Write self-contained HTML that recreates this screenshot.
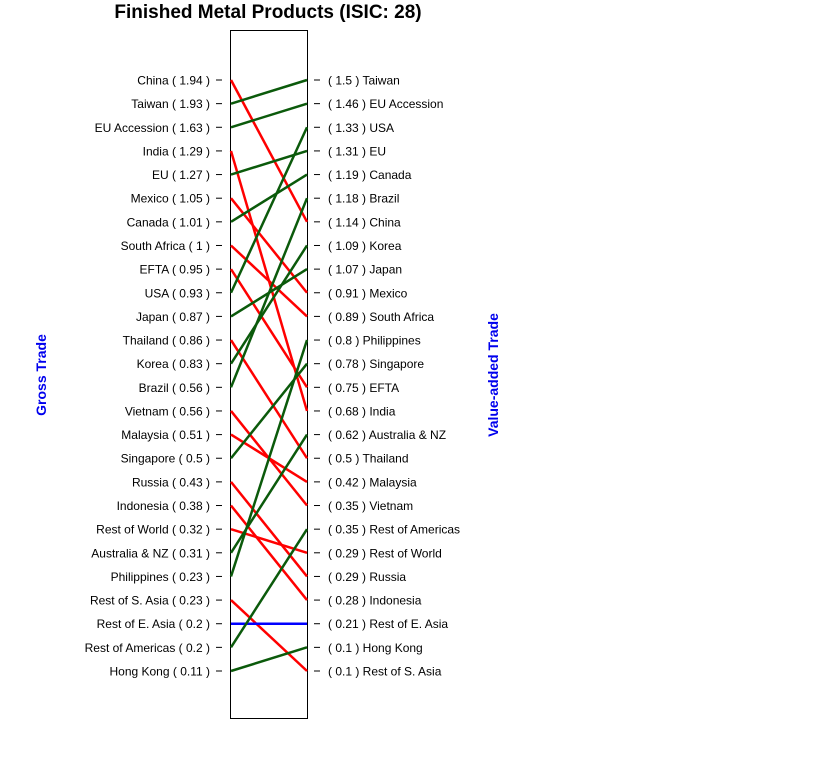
<!DOCTYPE html>
<html><head><meta charset="utf-8"><style>
html,body{margin:0;padding:0;background:#fff;}
svg{display:block;font-family:"Liberation Sans",Arial,sans-serif;}
</style></head><body>
<svg id="s" width="819" height="769" xmlns="http://www.w3.org/2000/svg">
<text x="268" y="18" font-size="19" font-weight="bold" text-anchor="middle">Finished Metal Products (ISIC: 28)</text>
<text transform="translate(46,375) rotate(-90)" font-size="14" font-weight="bold" fill="#0000ee" text-anchor="middle">Gross Trade</text>
<text transform="translate(498,375) rotate(-90)" font-size="14" font-weight="bold" fill="#0000ee" text-anchor="middle">Value-added Trade</text>
<rect x="230.5" y="30.5" width="77" height="688" fill="none" stroke="#000" stroke-width="1"/>
<g id="g"></g>
</svg>
<script>
var L=["China ( 1.94 )","Taiwan ( 1.93 )","EU Accession ( 1.63 )","India ( 1.29 )","EU ( 1.27 )","Mexico ( 1.05 )","Canada ( 1.01 )","South Africa ( 1 )","EFTA ( 0.95 )","USA ( 0.93 )","Japan ( 0.87 )","Thailand ( 0.86 )","Korea ( 0.83 )","Brazil ( 0.56 )","Vietnam ( 0.56 )","Malaysia ( 0.51 )","Singapore ( 0.5 )","Russia ( 0.43 )","Indonesia ( 0.38 )","Rest of World ( 0.32 )","Australia & NZ ( 0.31 )","Philippines ( 0.23 )","Rest of S. Asia ( 0.23 )","Rest of E. Asia ( 0.2 )","Rest of Americas ( 0.2 )","Hong Kong ( 0.11 )"];
var R=["( 1.5 ) Taiwan","( 1.46 ) EU Accession","( 1.33 ) USA","( 1.31 ) EU","( 1.19 ) Canada","( 1.18 ) Brazil","( 1.14 ) China","( 1.09 ) Korea","( 1.07 ) Japan","( 0.91 ) Mexico","( 0.89 ) South Africa","( 0.8 ) Philippines","( 0.78 ) Singapore","( 0.75 ) EFTA","( 0.68 ) India","( 0.62 ) Australia & NZ","( 0.5 ) Thailand","( 0.42 ) Malaysia","( 0.35 ) Vietnam","( 0.35 ) Rest of Americas","( 0.29 ) Rest of World","( 0.29 ) Russia","( 0.28 ) Indonesia","( 0.21 ) Rest of E. Asia","( 0.1 ) Hong Kong","( 0.1 ) Rest of S. Asia"];
var P=[[0,6],[1,0],[2,1],[3,14],[4,3],[5,9],[6,4],[7,10],[8,13],[9,2],[10,8],[11,16],[12,7],[13,5],[14,18],[15,17],[16,12],[17,21],[18,22],[19,20],[20,15],[21,11],[22,25],[23,23],[24,19],[25,24]];
function Y(i){return 80+i*23.64;}
var h="";
for(var i=0;i<26;i++){
 var y=Y(i);
 h+='<text x="210" y="'+(y+4.5)+'" font-size="12" text-anchor="end">'+L[i].replace(/&/g,"&amp;")+'</text>';
 h+='<line x1="216" x2="222" y1="'+y+'" y2="'+y+'" stroke="#000"/>';
 h+='<text x="328" y="'+(y+4.5)+'" font-size="12">'+R[i].replace(/&/g,"&amp;")+'</text>';
 h+='<line x1="314" x2="320" y1="'+y+'" y2="'+y+'" stroke="#000"/>';
}
for(var k=0;k<P.length;k++){
 var a=P[k][0],b=P[k][1];
 var c=b<a?"#0b5a0b":(b>a?"#ff0000":"#0000ff");
 h+='<line x1="231" x2="307" y1="'+Y(a)+'" y2="'+Y(b)+'" stroke="'+c+'" stroke-width="2.5"/>';
}
document.getElementById("g").innerHTML=h;
</script>
</body></html>
